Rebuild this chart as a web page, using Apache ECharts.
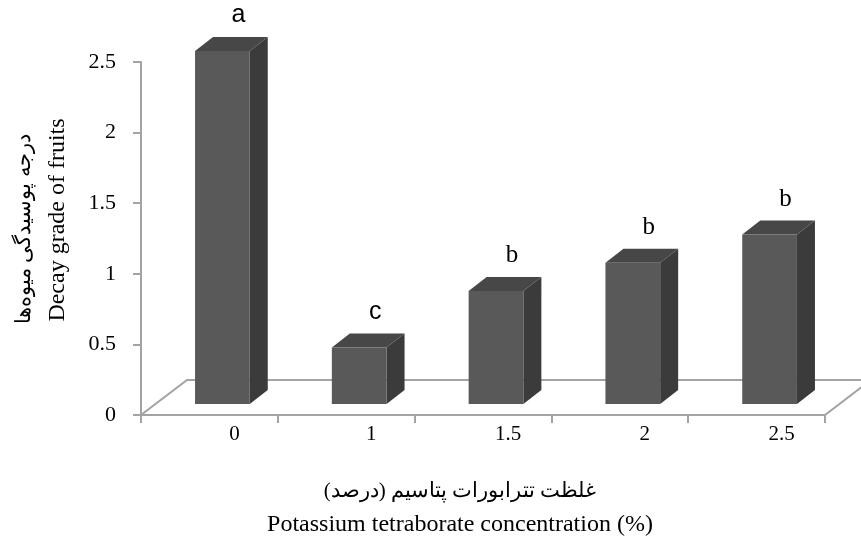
<!DOCTYPE html>
<html><head><meta charset="utf-8">
<script src="https://cdn.jsdelivr.net/npm/echarts@6/dist/echarts.min.js"></script>
<style>html,body{margin:0;padding:0;background:#fff}#c{width:861px;height:541px}</style>
</head><body><div id="c"></div>
<script>
// ---- data ----
const categories = ['0', '1', '1.5', '2', '2.5'];
const decayGrade = [2.5, 0.4, 0.8, 1.0, 1.2];
const groupLetters = ['a', 'c', 'b', 'b', 'b'];
const yMin = 0, yMax = 2.5, yInterval = 0.5;
const yTitleFa = 'درجه پوسیدگی میوه‌ها';
const yTitleEn = 'Decay grade of fruits';
const xTitleFa = 'غلظت تترابورات پتاسیم (درصد)';
const xTitleEn = 'Potassium tetraborate concentration (%)';

// ---- 3D look parameters ----
const FLOOR_DX = 46, FLOOR_DY = -35;   // total floor depth
const FRONT_DX = 13, FRONT_DY = -11;   // bar front plane offset
const DEPTH_DX = 18, DEPTH_DY = -14;   // bar depth
const GREY = '#a3a3a3';
const SERIF = '"Liberation Serif","Times New Roman",serif';
const SANS = '"Liberation Sans",Arial,sans-serif';

const chart = echarts.init(document.getElementById('c'), null, {renderer: 'canvas'});

function floorRender(params, api) {
  const cs = params.coordSys;
  const x0 = cs.x, x1 = cs.x + cs.width, y0 = cs.y + cs.height;
  return {
    type: 'polygon',
    shape: {points: [[x0, y0], [x1, y0], [x1 + FLOOR_DX, y0 + FLOOR_DY], [x0 + FLOOR_DX, y0 + FLOOR_DY]]},
    style: {fill: '#fff', stroke: GREY, lineWidth: 2}
  };
}

function barRender(params, api) {
  const i = api.value(0), v = api.value(1);
  const base = api.coord([i, 0]);
  const top = api.coord([i, v]);
  const bw = api.size([1, 0])[0];
  const w = bw * 0.4;
  const x0 = base[0] - w / 2 + FRONT_DX, x1 = x0 + w;
  const yb = base[1] + FRONT_DY, yt = top[1] + FRONT_DY;
  const letter = groupLetters[params.dataIndex];
  return {
    type: 'group',
    children: [
      {type: 'polygon', shape: {points: [[x1, yb], [x1 + DEPTH_DX, yb + DEPTH_DY], [x1 + DEPTH_DX, yt + DEPTH_DY], [x1, yt]]},
        style: {fill: '#3b3b3b'}},
      {type: 'polygon', shape: {points: [[x0, yt], [x0 + DEPTH_DX, yt + DEPTH_DY], [x1 + DEPTH_DX, yt + DEPTH_DY], [x1, yt]]},
        style: {fill: '#474747'}},
      {type: 'rect', shape: {x: x0, y: yt, width: w, height: yb - yt},
        style: {fill: '#595959'}},
      {type: 'text', style: {
        text: letter, x: x0 + DEPTH_DX + w / 2 - 2, y: yt + DEPTH_DY - 9,
        textAlign: 'center', textVerticalAlign: 'bottom',
        fontSize: 25, fontFamily: letter === 'b' ? SERIF : SANS, fill: '#000'
      }}
    ]
  };
}

const option = {
  backgroundColor: '#fff',
  animation: false,
  grid: {left: 141, right: 36, top: 62, bottom: 126},
  xAxis: {
    type: 'category', data: categories, boundaryGap: true,
    axisLine: {show: true, lineStyle: {color: GREY, width: 2}},
    axisTick: {show: true, length: 8, alignWithLabel: false, lineStyle: {color: GREY, width: 2}},
    axisLabel: {color: '#000', fontFamily: SERIF, fontSize: 21, margin: 9, padding: [0, 0, 0, 50]},
    splitLine: {show: false}
  },
  yAxis: {
    type: 'value', min: yMin, max: yMax, interval: yInterval,
    axisLine: {show: true, lineStyle: {color: GREY, width: 2}},
    axisTick: {show: true, length: 8, lineStyle: {color: GREY, width: 2}},
    axisLabel: {color: '#000', fontFamily: SERIF, fontSize: 22, margin: 25},
    splitLine: {show: false}
  },
  graphic: [
    {type: 'text', x: 24, y: 229, rotation: Math.PI / 2,
      style: {text: yTitleFa, textAlign: 'center', textVerticalAlign: 'middle', fontSize: 21, fontFamily: SERIF, fill: '#000'}},
    {type: 'text', x: 58, y: 220, rotation: Math.PI / 2,
      style: {text: yTitleEn, textAlign: 'center', textVerticalAlign: 'middle', fontSize: 24, fontFamily: SERIF, fill: '#000'}},
    {type: 'text', x: 460, y: 491,
      style: {text: xTitleFa, textAlign: 'center', textVerticalAlign: 'middle', fontSize: 21, fontFamily: SERIF, fill: '#000'}},
    {type: 'text', x: 460, y: 525,
      style: {text: xTitleEn, textAlign: 'center', textVerticalAlign: 'middle', fontSize: 24, fontFamily: SERIF, fill: '#000'}}
  ],
  series: [
    {type: 'custom', renderItem: floorRender, data: [[0, 0]], z: 1, silent: true, clip: false},
    {type: 'custom', renderItem: barRender, z: 3, clip: false,
      encode: {x: 0, y: 1},
      data: decayGrade.map((v, i) => [i, v])}
  ]
};
chart.setOption(option);
</script>
</body></html>
